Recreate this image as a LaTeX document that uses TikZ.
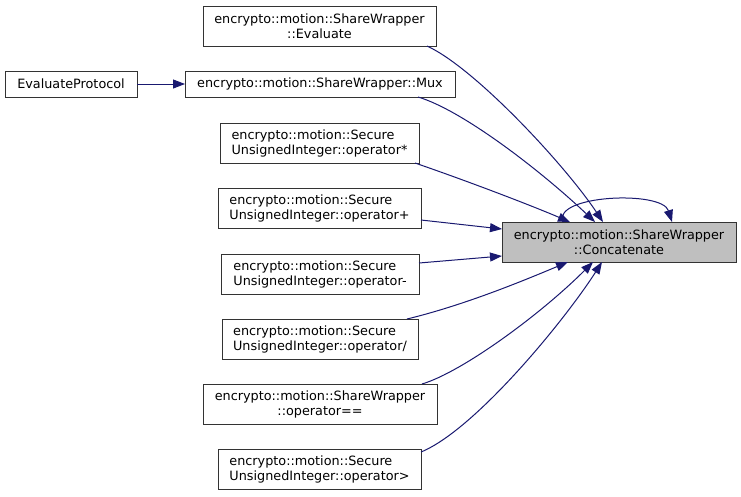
\documentclass[tikz,border=0pt]{standalone}
\usepackage{fontspec}
\setmainfont{DejaVu Sans}
\usetikzlibrary{arrows.meta,calc}
\definecolor{edgec}{HTML}{191970}
\definecolor{borderc}{HTML}{333333}
\definecolor{targetc}{HTML}{BFBFBF}
\tikzset{
  box/.style={draw=borderc, line width=1pt, fill=white, inner sep=0pt, outer sep=0pt,
    font=\fontsize{12.8}{15}\selectfont, text=black},
  cbox/.style={box, align=center},
  lbox/.style={box, align=left},
  edge/.style={draw=edgec, line width=1pt, -{Triangle[length=12pt,width=9pt]}, fill=none},
}
\begin{document}
\begin{tikzpicture}[x=1pt,y=-1pt]
\useasboundingbox (0,0) rectangle (741,496);
\fill[white] (0,0) rectangle (741,496);
% nodes
\node[cbox, minimum width=233, minimum height=40] (ev) at (319.5,26) {encrypto::motion::ShareWrapper\\::Evaluate};
\node[cbox, minimum width=270, minimum height=26] (mux) at (320,84) {encrypto::motion::ShareWrapper::Mux};
\node[cbox, minimum width=132, minimum height=26] (ep) at (71,84) {EvaluateProtocol};
\node[lbox, minimum width=199, minimum height=40] (mul) at (319.5,143) {encrypto::motion::Secure\\UnsignedInteger::operator*};
\node[lbox, minimum width=203, minimum height=40] (add) at (319.5,208.5) {encrypto::motion::Secure\\UnsignedInteger::operator+};
\node[lbox, minimum width=198, minimum height=40] (sub) at (320,274) {encrypto::motion::Secure\\UnsignedInteger::operator-};
\node[lbox, minimum width=196, minimum height=40] (div) at (320,339) {encrypto::motion::Secure\\UnsignedInteger::operator/};
\node[cbox, minimum width=234, minimum height=40] (eq) at (320,404) {encrypto::motion::ShareWrapper\\::operator==};
\node[lbox, minimum width=203, minimum height=40] (gt) at (319.5,469) {encrypto::motion::Secure\\UnsignedInteger::operator>};
\node[cbox, fill=targetc, minimum width=234, minimum height=40] (cc) at (619,242) {encrypto::motion::ShareWrapper\\::Concatenate};
% edges
\draw[edge] (ep.east) -- (mux.west);
\draw[edge] ($(ev.south east)+(-9,0)$) .. controls (475,68) and (565,165) .. ($(cc.north)+(-16,0)$);
\draw[edge] ($(mux.south east)+(-37,0)$) .. controls (462,110) and (540,170) .. ($(cc.north)+(-24,0)$);
\draw[edge] ($(mul.south east)+(-4,0)$) .. controls (470,182) and (530,205) .. ($(cc.north)+(-49,0)$);
\draw[edge] ($(add.east)+(0,11.5)$) -- ($(cc.west)+(0,-13)$);
\draw[edge] ($(sub.east)+(0,-11)$) -- ($(cc.west)+(0,14)$);
\draw[edge] ($(div.north east)+(-11,0)$) .. controls (465,305) and (525,280) .. ($(cc.south)+(-51,0)$);
\draw[edge] ($(eq.north east)+(-15,0)$) .. controls (462,372) and (540,315) .. ($(cc.south)+(-26,0)$);
\draw[edge] ($(gt.north east)+(0,3)$) .. controls (475,430) and (565,320) .. ($(cc.south)+(-17,0)$);
\draw[edge] ($(cc.north)+(-56,0)$) .. controls (552,195) and (662,190) .. ($(cc.north)+(53,0)$);
\end{tikzpicture}
\end{document}
